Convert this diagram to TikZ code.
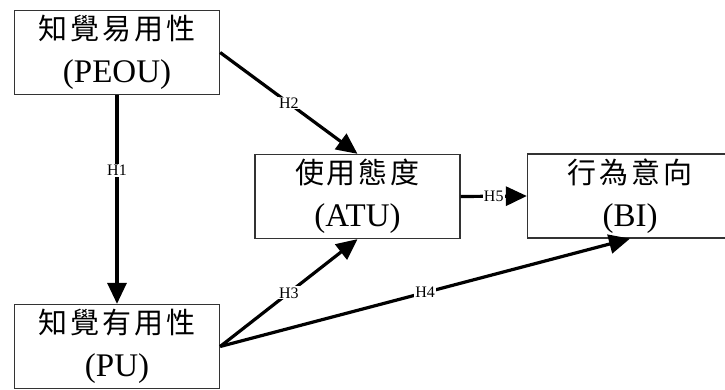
\documentclass[tikz,border=0pt]{standalone}
\usepackage{fontspec}
\setmainfont{Liberation Serif}
\newfontfamily\cjk{Noto Sans CJK TC}
\usetikzlibrary{arrows.meta}
\newcommand\cs{\kern3pt}
\begin{document}
\begin{tikzpicture}[x=1pt,y=-1pt,
  concept/.style={draw=black!80, line width=1.3pt, fill=white,
    minimum width=205pt, minimum height=84pt, inner sep=0pt,
    align=center, font=\fontsize{33}{43}\selectfont},
  path/.style={line width=3.2pt, -{Triangle[length=21pt,width=19pt]}},
  hyp/.style={fill=white, inner sep=1pt, font=\fontsize{16}{16}\selectfont}]
  \useasboundingbox (0,0) rectangle (725,390);
  \fill[white] (0,0) rectangle (725,390);

  % constructs of the technology acceptance model
  \node[concept] (peou) at (117,52.5) {{\cjk\fontsize{29}{43}\selectfont 知\cs 覺\cs 易\cs 用\cs 性}\\(PEOU)};
  \node[concept] (pu)   at (117,346.5) {{\cjk\fontsize{29}{43}\selectfont 知\cs 覺\cs 有\cs 用\cs 性}\\(PU)};
  \node[concept] (atu)  at (357.5,196.5) {{\cjk\fontsize{29}{43}\selectfont 使\cs 用\cs 態\cs 度}\\(ATU)};
  \node[concept] (bi)   at (630,196) {{\cjk\fontsize{29}{43}\selectfont 行\cs 為\cs 意\cs 向}\\(BI)};

  % hypothesised paths
  \draw[path] (peou.south) -- node[hyp, pos=0.36] {H1} (pu.north);
  \draw[path] (peou.east)  -- node[hyp] {H2} (atu.north);
  \draw[path] (pu.east)    -- node[hyp] {H3} (atu.south);
  \draw[path] (pu.east)    -- node[hyp] {H4} (bi.south);
  \draw[path] (atu.east)   -- node[hyp] {H5} (bi.west);
\end{tikzpicture}
\end{document}
